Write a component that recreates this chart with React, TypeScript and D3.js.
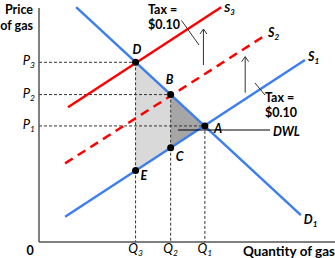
import React from "react";
import * as d3 from "d3";

// ---- data ----
const priceTicks = [
  { name: "P", sub: "3", value: 76.8 },
  { name: "P", sub: "2", value: 63.0 },
  { name: "P", sub: "1", value: 49.6 },
];
const quantityTicks = [
  { name: "Q", sub: "3", value: 33.3 },
  { name: "Q", sub: "2", value: 45.4 },
  { name: "Q", sub: "1", value: 57.2 },
];
const demandLine: [number, number][] = [[12.8, 100.4], [90.3, 11.5]];
const supply1Line: [number, number][] = [[9.0, 10.8], [91.7, 77.8]];
const supply2Line: [number, number][] = [[9.0, 33.6], [77.6, 88.0]];
const supply3Line: [number, number][] = [[10.0, 57.6], [62.8, 100.3]];
const points = [
  { id: "A", q: 57.2, p: 49.6 },
  { id: "B", q: 45.4, p: 63.0 },
  { id: "C", q: 45.4, p: 40.3 },
  { id: "D", q: 33.3, p: 76.8 },
  { id: "E", q: 33.3, p: 30.6 },
];
const taxArrows = [
  { q: 56.7, from: 75.6, to: 91.0 },
  { q: 71.1, from: 63.8, to: 79.2 },
];
const taxLabel = "Tax =";
const taxValue = "$0.10";

const FONT = "Lato, 'Open Sans', sans-serif";
const BLUE = "#3d7ef0";
const RED = "#ff0000";

export default function App() {
  const W = 335, H = 258;
  const x = d3.scaleLinear().domain([0, 100]).range([39, 329]);
  const y = d3.scaleLinear().domain([0, 100]).range([242, 8]);
  const line = d3.line<[number, number]>().x(d => x(d[0])).y(d => y(d[1]));
  const pt = (id: string) => points.find(p => p.id === id)!;
  const A = pt("A"), B = pt("B"), C = pt("C"), D = pt("D"), E = pt("E");
  const lightPoly: [number, number][] = [[D.q, D.p], [B.q, B.p], [C.q, C.p], [E.q, E.p]];
  const darkPoly: [number, number][] = [[B.q, B.p], [A.q, A.p], [C.q, C.p]];
  const poly = (pts: [number, number][]) => line(pts)! + "Z";

  const labelOffsets: Record<string, [number, number]> = {
    A: [9, 7], B: [-5, -11], C: [5, 13], D: [-3, -8], E: [5, 10],
  };

  const sub = (name: string, s: string, xx: number, yy: number, anchor: string, size = 12) => (
    <text x={xx} y={yy} textAnchor={anchor as any} fontFamily={FONT} fontStyle="italic" fontSize={size} fill="#000">
      {name}
      <tspan fontSize={size * 0.65} dy={3}>{s}</tspan>
    </text>
  );

  return (
    <div style={{ position: "fixed", left: 0, top: 0 }}>
      <svg width={W} height={H} style={{ display: "block", background: "#fff" }}>
        {/* shaded areas */}
        <path d={poly(lightPoly)} fill="#d9d9d9" />
        <path d={poly(darkPoly)} fill="#a6a6a6" />

        {/* guide lines */}
        {points.filter(p => p.id === "A" || p.id === "B" || p.id === "D").map(p => (
          <line key={"h" + p.id} x1={x(0)} x2={x(p.q)} y1={y(p.p)} y2={y(p.p)} stroke="#333" strokeWidth={1} strokeDasharray="3,2" />
        ))}
        {points.filter(p => p.id === "A" || p.id === "C" || p.id === "E").map(p => (
          <line key={"v" + p.id} x1={x(p.q)} x2={x(p.q)} y1={y(p.p)} y2={y(0)} stroke="#333" strokeWidth={1} strokeDasharray="3,2" />
        ))}
        <line x1={x(B.q)} x2={x(C.q)} y1={y(B.p)} y2={y(C.p)} stroke="#333" strokeWidth={1} strokeDasharray="3,2" />
        <line x1={x(D.q)} x2={x(E.q)} y1={y(D.p)} y2={y(E.p)} stroke="#333" strokeWidth={1} strokeDasharray="3,2" />

        {/* axes */}
        <line x1={x(0)} x2={x(0)} y1={y(100)} y2={y(0)} stroke="#555" strokeWidth={1.5} />
        <line x1={x(0)} x2={W} y1={y(0)} y2={y(0)} stroke="#555" strokeWidth={1.5} />

        {/* curves */}
        <path d={line(supply3Line)!} stroke={RED} strokeWidth={2.5} fill="none" />
        <path d={line(supply2Line)!} stroke={RED} strokeWidth={2.5} fill="none" strokeDasharray="9,6" />
        <path d={line(supply1Line)!} stroke={BLUE} strokeWidth={2.5} fill="none" />
        <path d={line(demandLine)!} stroke={BLUE} strokeWidth={2.5} fill="none" />

        {/* DWL leader */}
        <line x1={178} x2={270} y1={130} y2={130} stroke="#000" strokeWidth={1} />
        <text x={273} y={136} fontFamily={FONT} fontWeight="bold" fontStyle="italic" fontSize={12.5}>DWL</text>

        {/* tax arrows */}
        {taxArrows.map((a, i) => {
          const xx = x(a.q), y1 = y(a.from), y2 = y(a.to);
          return (
            <g key={"arr" + i} stroke="#333" strokeWidth={1} fill="none">
              <line x1={xx} x2={xx} y1={y1} y2={y2} />
              <path d={`M${xx - 3.5},${y2 + 5} L${xx},${y2} L${xx + 3.5},${y2 + 5}`} />
            </g>
          );
        })}
        <line x1={181.5} y1={20.5} x2={199} y2={45} stroke="#333" strokeWidth={1} />
        <line x1={255} y1={83} x2={265} y2={95} stroke="#333" strokeWidth={1} />
        <text fontFamily={FONT} fontWeight="bold" fontSize={12.5} fill="#000">
          <tspan x={148} y={14}>{taxLabel}</tspan>
          <tspan x={148} y={29}>{taxValue}</tspan>
        </text>
        <text fontFamily={FONT} fontWeight="bold" fontSize={12.5} fill="#000">
          <tspan x={265} y={102}>{taxLabel}</tspan>
          <tspan x={265} y={117}>{taxValue}</tspan>
        </text>

        {/* points */}
        {points.map(p => (
          <g key={p.id}>
            <circle cx={x(p.q)} cy={y(p.p)} r={3.5} fill="#000" />
            <text x={x(p.q) + labelOffsets[p.id][0]} y={y(p.p) + labelOffsets[p.id][1]} fontFamily={FONT} fontWeight="bold" fontStyle="italic" fontSize={12.5}>{p.id}</text>
          </g>
        ))}

        {/* curve labels */}
        <g fontWeight="bold">
          {sub("S", "3", x(supply3Line[1][0]) + 3, y(supply3Line[1][1]) + 5, "start", 12)}
          {sub("S", "2", x(supply2Line[1][0]) + 4, y(supply2Line[1][1]) + 1, "start", 12.5)}
          {sub("S", "1", x(supply1Line[1][0]) + 3, y(supply1Line[1][1]) + 1, "start", 12.5)}
          {sub("D", "1", x(demandLine[1][0]) + 3, y(demandLine[1][1]) + 9, "start", 12.5)}
        </g>

        {/* tick labels */}
        {priceTicks.map(t => (
          <g key={t.name + t.sub}>{sub(t.name, t.sub, 35, y(t.value) + 3, "end", 13)}</g>
        ))}
        {quantityTicks.map(t => (
          <g key={t.name + t.sub}>{sub(t.name, t.sub, x(t.value), 253, "middle", 13)}</g>
        ))}

        {/* axis titles */}
        <text x={30} y={255} textAnchor="middle" fontFamily={FONT} fontWeight="bold" fontSize={12.5}>0</text>
        <text fontFamily={FONT} fontWeight="bold" fontSize={12.5} textAnchor="end">
          <tspan x={33} y={14}>Price</tspan>
          <tspan x={33} y={30}>of gas</tspan>
        </text>
        <text x={335} y={256} textAnchor="end" fontFamily={FONT} fontWeight="bold" fontSize={13.5}>Quantity of gas</text>
      </svg>
    </div>
  );
}
